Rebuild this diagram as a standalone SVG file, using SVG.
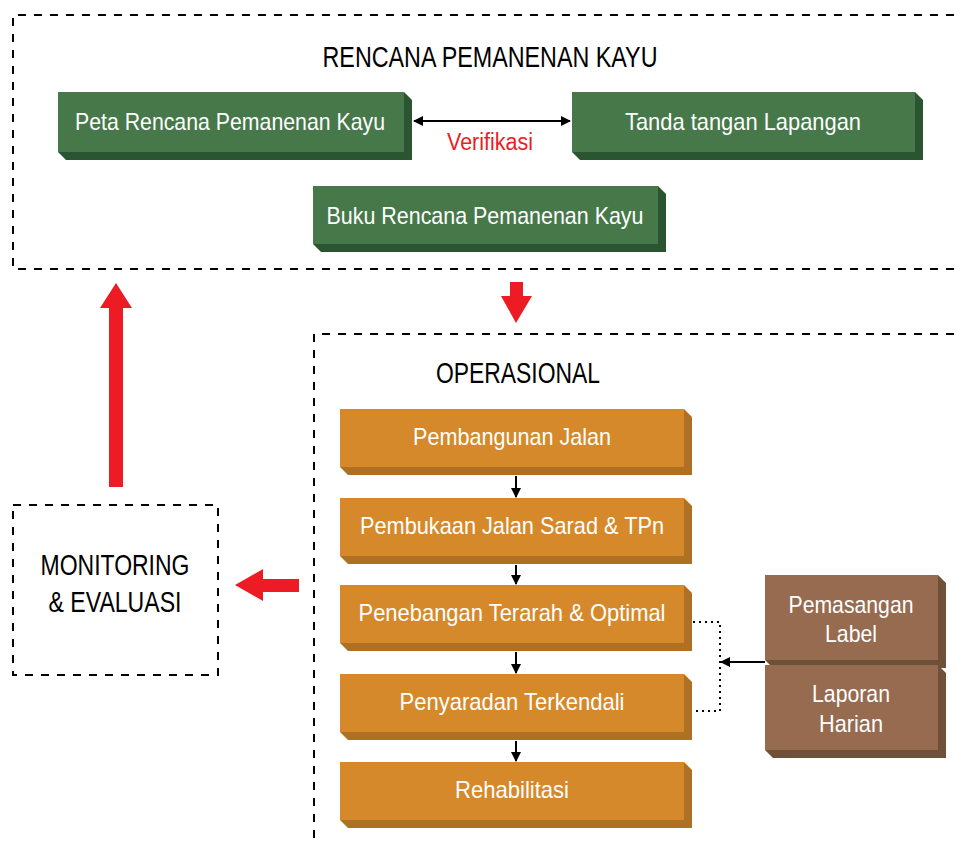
<svg xmlns="http://www.w3.org/2000/svg" width="956" height="844" viewBox="0 0 956 844">
<defs>
<style>
.t{font-family:"Liberation Sans",Arial,sans-serif;}
.lbl{fill:#ffffff;font-size:24px;text-anchor:middle;}
.hd{fill:#000;font-size:30px;text-anchor:middle;}
.dash{fill:none;stroke:#000;stroke-width:2;stroke-dasharray:8 8;}
.gf{fill:#467849;}.gs{fill:#2b5530;}
.of{fill:#d6892a;}.os{fill:#ae7022;}
.bf{fill:#966b4f;}.bs{fill:#6f5039;}
.red{fill:#ed1c24;}
.ln{stroke:#000;stroke-width:2;fill:none;}
</style>
<marker id="ah" viewBox="0 0 10 10" refX="9" refY="5" markerWidth="10" markerHeight="10" markerUnits="userSpaceOnUse" orient="auto-start-reverse">
<path d="M0,0 L10,5 L0,10 z" fill="#000"/>
</marker>
</defs>
<rect width="956" height="844" fill="#fff"/>

<g id="frame-rencana">
<path class="dash" d="M970,15 H13 V269 H970"/>
<text class="t hd" x="490" y="67" textLength="335" lengthAdjust="spacingAndGlyphs">RENCANA PEMANENAN KAYU</text>
</g>
<g id="frame-operasional">
<path class="dash" d="M970,334 H314 V860"/>
<text class="t hd" x="518" y="383" textLength="164" lengthAdjust="spacingAndGlyphs">OPERASIONAL</text>
</g>
<g id="monitoring">
<rect class="dash" x="13" y="505" width="205" height="170"/>
<text class="t hd" x="115" y="575" font-size="31" textLength="149" lengthAdjust="spacingAndGlyphs">MONITORING</text>
<text class="t hd" x="115" y="612" font-size="31" textLength="133" lengthAdjust="spacingAndGlyphs">&amp; EVALUASI</text>
</g>

<g id="peta">
<polygon class="gs" points="404,92 412,100 412,160 66,160 58,152"/>
<rect class="gf" x="58" y="92" width="346" height="60"/>
<text class="t lbl" x="230" y="130" textLength="310" lengthAdjust="spacingAndGlyphs">Peta Rencana Pemanenan Kayu</text>
</g>
<g id="tanda">
<polygon class="gs" points="915,92 923,100 923,160 580,160 572,152"/>
<rect class="gf" x="572" y="92" width="343" height="60"/>
<text class="t lbl" x="743" y="130" textLength="236" lengthAdjust="spacingAndGlyphs">Tanda tangan Lapangan</text>
</g>
<g id="buku">
<polygon class="gs" points="658,186 666,194 666,252 321,252 313,244"/>
<rect class="gf" x="313" y="186" width="345" height="58"/>
<text class="t lbl" x="485" y="224" textLength="317" lengthAdjust="spacingAndGlyphs">Buku Rencana Pemanenan Kayu</text>
</g>

<g id="pembangunan">
<polygon class="os" points="684,409 692,417 692,475 348,475 340,467"/>
<rect class="of" x="340" y="409" width="344" height="58"/>
<text class="t lbl" x="512" y="445" textLength="198" lengthAdjust="spacingAndGlyphs">Pembangunan Jalan</text>
</g>
<g id="pembukaan">
<polygon class="os" points="684,498 692,506 692,564 348,564 340,556"/>
<rect class="of" x="340" y="498" width="344" height="58"/>
<text class="t lbl" x="512" y="534" textLength="304" lengthAdjust="spacingAndGlyphs">Pembukaan Jalan Sarad &amp; TPn</text>
</g>
<g id="penebangan">
<polygon class="os" points="684,585 692,593 692,651 348,651 340,643"/>
<rect class="of" x="340" y="585" width="344" height="58"/>
<text class="t lbl" x="512" y="621" textLength="307" lengthAdjust="spacingAndGlyphs">Penebangan Terarah &amp; Optimal</text>
</g>
<g id="penyaradan">
<polygon class="os" points="684,674 692,682 692,740 348,740 340,732"/>
<rect class="of" x="340" y="674" width="344" height="58"/>
<text class="t lbl" x="512" y="710" textLength="225" lengthAdjust="spacingAndGlyphs">Penyaradan Terkendali</text>
</g>
<g id="rehabilitasi">
<polygon class="os" points="684,762 692,770 692,828 348,828 340,820"/>
<rect class="of" x="340" y="762" width="344" height="58"/>
<text class="t lbl" x="512" y="798" textLength="114" lengthAdjust="spacingAndGlyphs">Rehabilitasi</text>
</g>

<g id="pemasangan">
<polygon class="bs" points="938,575 946,583 946,668 773,668 765,660"/>
<rect class="bf" x="765" y="575" width="173" height="85"/>
<text class="t lbl" x="851" y="613" textLength="125" lengthAdjust="spacingAndGlyphs">Pemasangan</text>
<text class="t lbl" x="851" y="642" textLength="52" lengthAdjust="spacingAndGlyphs">Label</text>
</g>
<g id="laporan">
<polygon class="bs" points="938,665 946,673 946,758 773,758 765,750"/>
<rect class="bf" x="765" y="665" width="173" height="85"/>
<text class="t lbl" x="851" y="702" textLength="78" lengthAdjust="spacingAndGlyphs">Laporan</text>
<text class="t lbl" x="851" y="732" textLength="64" lengthAdjust="spacingAndGlyphs">Harian</text>
</g>

<g id="connectors">
<line class="ln" x1="414" y1="121" x2="570" y2="121" marker-start="url(#ah)" marker-end="url(#ah)"/>
<text class="t" x="490" y="150" font-size="23" fill="#ed1c24" text-anchor="middle" textLength="86" lengthAdjust="spacingAndGlyphs">Verifikasi</text>
<line class="ln" x1="516" y1="476" x2="516" y2="497" marker-end="url(#ah)"/>
<line class="ln" x1="516" y1="565" x2="516" y2="584" marker-end="url(#ah)"/>
<line class="ln" x1="516" y1="652" x2="516" y2="673" marker-end="url(#ah)"/>
<line class="ln" x1="516" y1="741" x2="516" y2="761" marker-end="url(#ah)"/>
<path d="M693,622 H720 V711 H693" fill="none" stroke="#000" stroke-width="2" stroke-dasharray="2 4"/>
<line class="ln" x1="765" y1="662" x2="721" y2="662" marker-end="url(#ah)"/>
<polygon class="red" points="510,282 523,282 523,296 532,296 516,323 501,296 510,296"/>
<polygon class="red" points="116,283 132,308 123,308 123,487 109,487 109,308 100,308"/>
<polygon class="red" points="235,585 263,569 263,579 299,579 299,592 263,592 263,601"/>
</g>
</svg>
